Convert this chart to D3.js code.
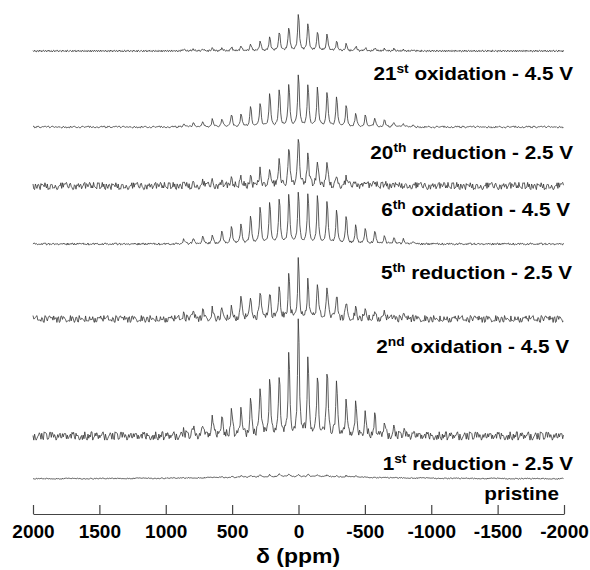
<!DOCTYPE html>
<html lang="en">
<head>
<meta charset="utf-8">
<title>7Li NMR spectra</title>
<script src="https://cdn.jsdelivr.net/npm/d3@7/dist/d3.min.js"></script>
<style>
  body { margin: 0; background: #fff; }
  text { font-family: Arial, "Liberation Sans", sans-serif; font-weight: bold; fill: #000; }
</style>
</head>
<body>
<script>
// sideband positions (ppm), order +12 ... -12
const sidebandPpm = [864, 792, 720, 648, 576, 504, 432, 360, 288, 216, 144, 72, 0,
  -72, -144, -216, -288, -360, -432, -504, -576, -648, -720, -792, -864];

// sideband heights for each spectrum, top to bottom (same order as sidebandPpm)
const ox21 = [2, 2, 2, 3, 3, 4, 5, 7, 10, 14, 20, 25, 39, 29, 20, 17, 10, 7, 5, 3, 3, 2, 2, 1, 1];
const red20 = [3, 4, 6, 8, 9, 13, 14, 21, 24, 35, 40, 45, 55, 45, 41, 36, 31, 23, 14, 12, 9, 7, 5, 3, 2];
const ox6 = [3, 3, 4, 5, 5, 6, 8, 10, 18, 21, 25, 42, 52, 36, 28, 24, 12, 8, 6, 5, 4, 3, 3, 2, 2];
const red5 = [5, 6, 8, 9, 13, 19, 21, 30, 39, 44, 48, 52, 55, 52, 50, 44, 35, 29, 19, 16, 14, 9, 7, 5, 3];
const ox2 = [6, 7, 8, 10, 11, 12, 22, 23, 29, 29, 37, 46, 62, 42, 36, 36, 24, 16, 11, 10, 8, 6, 5, 3, 2];
const red1 = [6, 8, 12, 20, 24, 28, 29, 40, 53, 62, 64, 85, 125, 80, 65, 69, 56, 36, 33, 26, 20, 13, 8, 5, 4];
const pristine = [0, 0, 0, 0, 1, 1, 1.5, 1.5, 2, 2, 2.5, 2.5, 2.5, 2.5, 2, 2, 1.5, 1.5, 1, 1, 0, 0, 0, 0, 0];

const spectra = [ox21, red20, ox6, red5, ox2, red1, pristine];
// vertical offset of each spectrum (intensity units)
const offsets = [463, 387, 328, 270, 195, 78, 35];
// baseline noise level of each spectrum
const noiseLevel = [1.1, 1.0, 4.0, 1.1, 3.8, 4.6, 0.6];
// broad background under the pristine spectrum
const broadHeight = [0, 0, 0, 0, 0, 0, 2.5];

// baseline noise (normalised)
const noise = [0.3, -0.5, 0.8, -0.2, -0.9, 0.4, 0.1, -0.6, 0.9, -0.3, 0.5, -0.8, 0.2, 0.7, -0.4,
  -0.1, 0.6, -0.7, 0.3, -0.2, 0.9, -0.5, -0.3, 0.4, -0.9, 0.1, 0.8, -0.6, 0.2, -0.4, 0.7, 0.5,
  -0.8, 0.0, 0.6, -0.3, -0.7, 0.9, -0.1, 0.3, -0.5, 0.4, -0.9, 0.8, 0.2, -0.6, 0.1, 0.5, -0.2,
  -0.8, 0.7, -0.4, 0.3, 0.6, -0.9, 0.2, -0.1, 0.8, -0.5, 0.4, -0.3, -0.6, 0.9, 0.1, -0.7, 0.5,
  -0.2, 0.3, -0.8, 0.6, 0.0, -0.4, 0.7, -0.9, 0.4, 0.2, -0.5, 0.8, -0.3, -0.1, 0.6, -0.7, 0.5,
  0.1, -0.6, 0.9, -0.4, 0.2, -0.2];
const noiseStride = [1, 3, 7, 11, 13, 17, 5];

// labels under each spectrum
const labelNum = ["21", "20", "6", "5", "2", "1", ""];
const labelSup = ["st", "th", "th", "th", "nd", "st", ""];
const labelRest = [" oxidation - 4.5 V", " reduction - 2.5 V", " oxidation - 4.5 V",
  " reduction - 2.5 V", " oxidation - 4.5 V", " reduction - 2.5 V", "pristine"];
const labelY = [80, 159, 216, 279, 353, 470, 500];
const labelX = [573, 573, 570, 572, 569, 573, 559];

const tickVals = [2000, 1500, 1000, 500, 0, -500, -1000, -1500, -2000];

const width = 590, height = 570;
const svg = d3.select("body").append("svg")
  .attr("width", width)
  .attr("height", height);

const x = d3.scaleLinear().domain([2000, -2000]).range([33, 564]);
const y = d3.scaleLinear().domain([0, 520]).range([514, -6]);

const hw = 7; // half width of a sideband line (ppm)
const grid = d3.range(2000, -2000.1, -6);

spectra.forEach(function(h, s) {
  const pts = grid.map(function(p, i) {
    let v = offsets[s] + noiseLevel[s] * noise[(i * noiseStride[s] + s * 5) % noise.length];
    sidebandPpm.forEach(function(c, k) {
      const d = (p - c) / hw;
      v += h[k] / (1 + d * d);
    });
    if (broadHeight[s]) {
      const d = p / 700;
      v += broadHeight[s] / (1 + d * d);
    }
    return [p, v];
  });
  svg.append("path")
    .datum(pts)
    .attr("fill", "none")
    .attr("stroke", "#333")
    .attr("stroke-width", 0.8)
    .attr("d", d3.line().x(d => x(d[0])).y(d => y(d[1])));
});

// labels (slightly wide lettering as in the figure)
labelRest.forEach(function(t, i) {
  const txt = svg.append("text")
    .attr("transform", `translate(${labelX[i]},${labelY[i]}) scale(1.15,1)`)
    .attr("text-anchor", "end")
    .style("font-size", "18px");
  if (labelNum[i]) {
    txt.append("tspan").text(labelNum[i]);
    txt.append("tspan").attr("dy", -7).style("font-size", "12px").text(labelSup[i]);
    txt.append("tspan").attr("dy", 7).text(t);
  } else {
    txt.append("tspan").text(t);
  }
});

// axis
const gX = svg.append("g")
  .attr("transform", "translate(0,514)")
  .call(d3.axisBottom(x)
    .tickValues(tickVals)
    .tickFormat(d => String(d))
    .tickSizeInner(-9)
    .tickSizeOuter(0)
    .tickPadding(11));
gX.select(".domain").attr("stroke", "#444").attr("stroke-width", 1.2);
gX.selectAll(".tick line").attr("stroke", "#444").attr("stroke-width", 1.2);
gX.selectAll(".tick text")
  .attr("fill", "#000")
  .style("font-size", "19px")
  .style("font-family", "Arial, 'Liberation Sans', sans-serif")
  .style("font-weight", "bold");

svg.append("text")
  .attr("transform", "translate(298,563) scale(1.15,1)")
  .attr("text-anchor", "middle")
  .style("font-size", "20px")
  .text("δ (ppm)");
</script>
</body>
</html>
